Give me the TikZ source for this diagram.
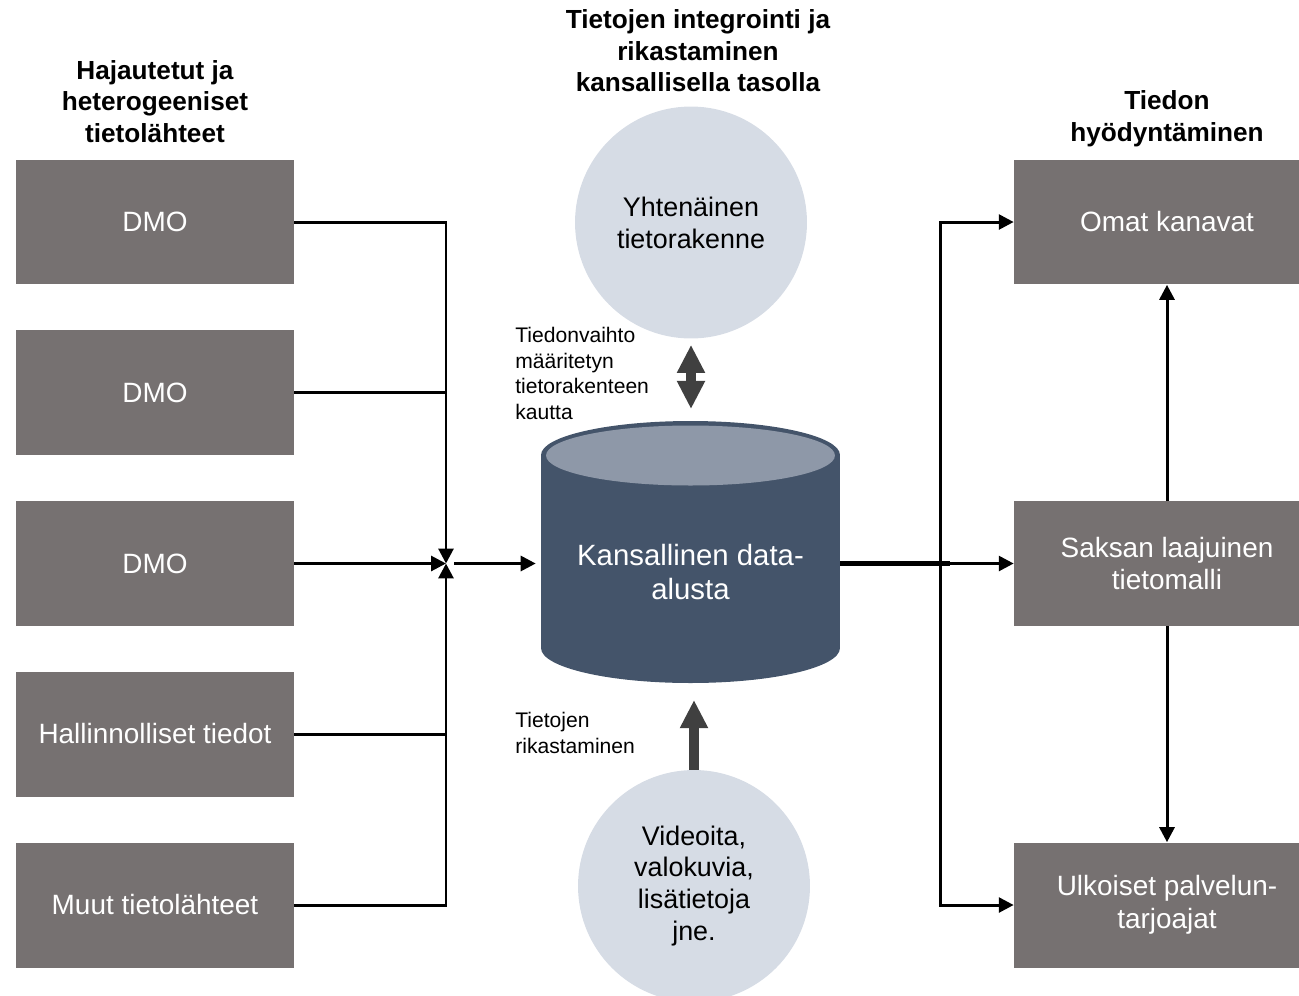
\documentclass[tikz,border=0pt]{standalone}
\usepackage{fontspec}
\setmainfont{Liberation Sans}
\usetikzlibrary{arrows.meta,positioning,calc}
\definecolor{boxgray}{HTML}{767171}
\definecolor{dbblue}{HTML}{44546A}
\definecolor{dblight}{HTML}{8E98A8}
\definecolor{circfill}{HTML}{D6DCE5}
\definecolor{fatgray}{HTML}{404040}
\tikzset{
  srcbox/.style={fill=boxgray, text=white, minimum width=5.56cm, minimum height=2.5cm, align=center,
                 font=\fontsize{15.9}{18.7}\selectfont, inner sep=2pt},
  usebox/.style={srcbox, minimum width=6.12cm},
  circ/.style={circle, fill=circfill, minimum size=4.64cm, align=center, inner sep=0pt,
               font=\fontsize{15.3}{18.2}\selectfont},
  head/.style={font=\bfseries\fontsize{14.9}{18}\selectfont, align=center, inner sep=0pt},
  lbl/.style={font=\fontsize{12}{14.5}\selectfont, align=left, anchor=west, inner sep=0pt},
  arr/.style={-{Triangle[length=8.5pt, width=8.5pt]}, line width=1.7pt},
  fatarr/.style={line width=6pt, draw=fatgray},
  fattip/.tip={Triangle[length=16pt, width=15pt]},
}
\begin{document}
\begin{tikzpicture}[x=0.02cm, y=-0.02cm]
  \clip (0,0) rectangle (1299,995);
  % headings
  \node[head] (hsrc) at (155,101.5) {Hajautetut ja\\heterogeeniset\\tietolähteet};
  \node[head] (hint) at (698,51) {Tietojen integrointi ja\\rikastaminen\\kansallisella tasolla};
  \node[head] (huse) at (1167,119) {Tiedon\\hyödyntäminen};
  % sources
  \node[srcbox] (s1) at (155,222) {DMO};
  \node[srcbox] (s2) at (155,392.5) {DMO};
  \node[srcbox] (s3) at (155,563.5) {DMO};
  \node[srcbox] (s4) at (155,734) {Hallinnolliset tiedot};
  \node[srcbox] (s5) at (155,905) {Muut tietolähteet};
  % usage
  \node[usebox] (u1) at (1167,222) {Omat kanavat};
  \node[usebox] (u2) at (1167,563.5) {Saksan laajuinen\\tietomalli};
  \node[usebox] (u3) at (1167,905) {Ulkoiset palvelun-\\tarjoajat};
  % circles
  \node[circ] (c1) at (691,222.5) {Yhtenäinen\\tietorakenne};
  \node[circ] (c2) at (694,886) {Videoita,\\valokuvia,\\lisätietoja\\jne.};
  % database
  \fill[dbblue] (541,455) rectangle (840,648);
  \fill[dbblue] (690.5,648) ellipse [x radius=2.99cm, y radius=0.7cm];
  \fill[dbblue] (690.5,455) ellipse [x radius=2.99cm, y radius=0.68cm];
  \fill[dblight] (690.5,455.5) ellipse [x radius=2.89cm, y radius=0.6cm];
  \coordinate (dbtop) at (691,421);
  \coordinate (dbbot) at (694,683);
  \node[minimum width=5.98cm, inner sep=0pt, align=center, text=white,
        font=\fontsize{16.7}{19}\selectfont] (db) at (690.5,572) {Kansallinen data-\\alusta};
  % labels
  \node[lbl] (lex) at (515,373.5) {Tiedonvaihto\\määritetyn\\tietorakenteen\\kautta};
  \node[lbl] (len) at (515,733) {Tietojen\\rikastaminen};
  % junctions
  \coordinate (jn) at (446,563.5);
  \coordinate (rj) at (940,563.5);
  % sources to platform
  \draw[arr] (s1.east) -| (jn);
  \draw[line width=1.7pt] (s2.east) -- (s2.east -| jn);
  \draw[arr] (s3.east) -- (jn);
  \draw[line width=1.7pt] (s4.east) -- (s4.east -| jn);
  \draw[arr] (s5.east) -| (jn);
  \draw[arr, shorten >=0.1cm] ([xshift=0.16cm]jn) -- (jn -| db.west);
  % platform to usage
  \draw[line width=2.8pt] (rj -| db.east) -- ([xshift=0.2cm]rj);
  \draw[arr] (rj -| db.east) -- (u2.west);
  \draw[arr] (rj |- u3.west) -- (rj |- u1.west) -- (u1.west);
  \draw[arr] (rj) |- (u3.west);
  \draw[arr] (u2.north) -- (u1.south);
  \draw[arr] (u2.south) -- (u3.north);
  % fat arrows
  \draw[fatarr, fattip-fattip, shorten <=0.12cm, shorten >=0.24cm] (c1.south) -- (dbtop);
  \draw[fatarr, -fattip, shorten >=0.34cm] (c2.north) -- (dbbot);
\end{tikzpicture}
\end{document}
